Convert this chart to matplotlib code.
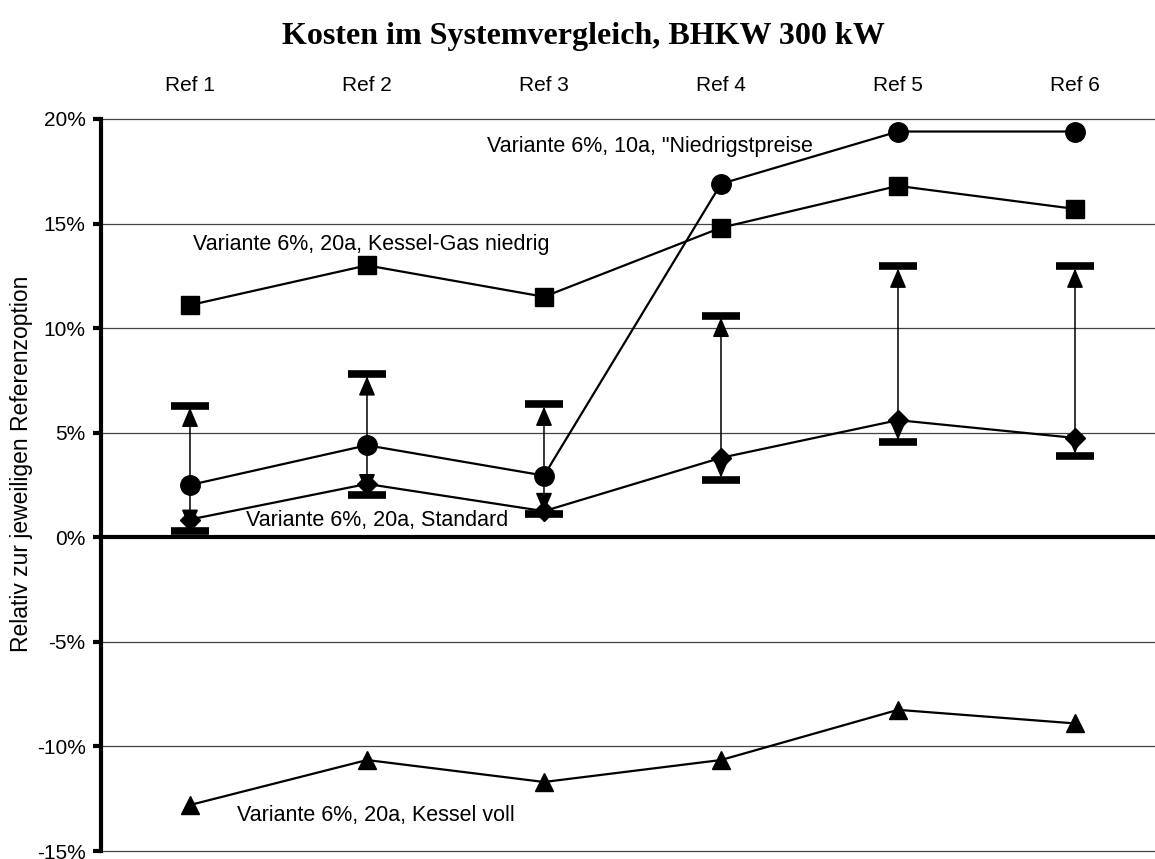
import numpy as np
import matplotlib.pyplot as plt

plt.rcParams["font.family"] = ["Liberation Sans", "DejaVu Sans"]

refs = ["Ref 1", "Ref 2", "Ref 3", "Ref 4", "Ref 5", "Ref 6"]
niedrigst = [2.5, 4.4, 2.95, 16.9, 19.4, 19.4]
kessel_gas = [11.1, 13.0, 11.5, 14.8, 16.8, 15.7]
standard = [0.85, 2.55, 1.25, 3.8, 5.6, 4.75]
kessel_voll = [-12.8, -10.65, -11.7, -10.65, -8.25, -8.9]
range_high = [6.3, 7.8, 6.35, 10.6, 12.95, 12.95]
range_low = [0.3, 2.0, 1.1, 2.75, 4.55, 3.9]

yticks = [20, 15, 10, 5, 0, -5, -10, -15]
ytick_labels = ["20%", "15%", "10%", "5%", "0%", "-5%", "-10%", "-15%"]

labels = ['Variante 6%, 10a, "Niedrigstpreise',
          "Variante 6%, 20a, Kessel-Gas niedrig",
          "Variante 6%, 20a, Standard",
          "Variante 6%, 20a, Kessel voll"]
label_pos = [(1.676, 18.68), (0.017, 14.0), (0.316, 0.8), (0.265, -13.3)]

x = np.arange(len(refs))

fig = plt.figure(figsize=(11.55, 8.59), dpi=100)
ax = fig.add_axes([0.0874, 0.0093, 0.9126, 0.8522])
ax.set_xlim(-0.503, 5.452)
ax.set_ylim(-15, 20)

# gridlines
for v in yticks:
    if v == 0:
        ax.axhline(v, color="black", lw=3, zorder=2, clip_on=False)
    else:
        ax.axhline(v, color="#444444", lw=0.9, zorder=1, clip_on=False)

# range arrows with bars
for xi, lo, hi in zip(x, range_low, range_high):
    ax.annotate("", xy=(xi, hi), xytext=(xi, lo),
                arrowprops=dict(arrowstyle="<|-|>,head_length=0.75,head_width=0.32",
                                color="black", lw=1.1, shrinkA=1.5, shrinkB=1.5,
                                mutation_scale=16),
                zorder=3)
ax.plot(x, range_high, ls="none", marker="_", ms=27, mew=5.5, color="black", zorder=6)
ax.plot(x, range_low, ls="none", marker="_", ms=27, mew=5.5, color="black", zorder=6)

ax.plot(x, niedrigst, color="black", lw=1.6, marker="o", ms=14, zorder=5)
ax.plot(x, kessel_gas, color="black", lw=1.6, marker="s", ms=12.5, zorder=5)
ax.plot(x, standard, color="black", lw=1.6, marker="D", ms=10, zorder=4)
ax.plot(x, kessel_voll, color="black", lw=1.6, marker="^", ms=13, zorder=5)

for txt, (lx, ly) in zip(labels, label_pos):
    ax.text(lx, ly, txt, fontsize=15.5, ha="left", va="center", zorder=7)

ax.set_yticks(yticks)
ax.set_yticklabels(ytick_labels, fontsize=15)
ax.set_xticks(x)
ax.set_xticklabels(refs, fontsize=15)
ax.xaxis.tick_top()
ax.tick_params(axis="x", length=0, pad=17)
ax.tick_params(axis="y", direction="out", length=6, width=3, pad=5)

for side in ["top", "right", "bottom"]:
    ax.spines[side].set_visible(False)
ax.spines["left"].set_linewidth(3)

fig.text(0.505, 0.957, "Kosten im Systemvergleich, BHKW 300 kW",
         family=["Liberation Serif", "DejaVu Serif"], fontweight="bold",
         fontsize=23, ha="center", va="center")
fig.text(22 / 1155, 0.46, "Relativ zur jeweiligen Referenzoption",
         rotation=90, fontsize=16.5, ha="center", va="center")

fig.savefig("out.png", dpi=100)
